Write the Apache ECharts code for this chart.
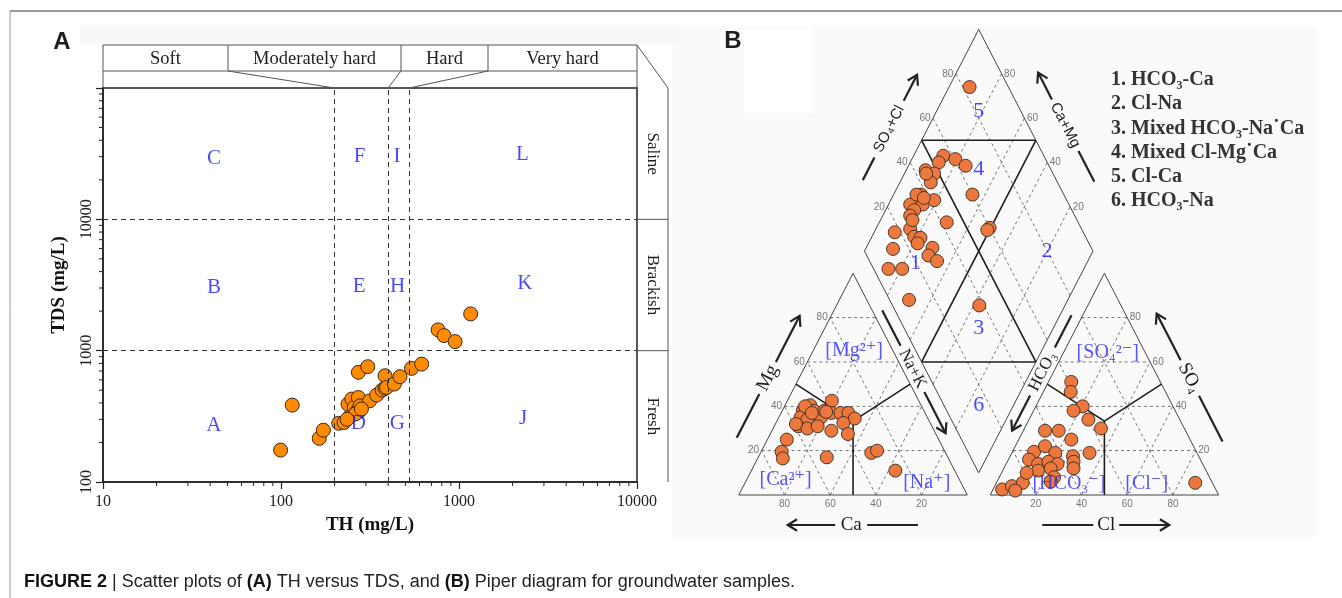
<!DOCTYPE html>
<html>
<head>
<meta charset="utf-8">
<script src="https://cdn.jsdelivr.net/npm/echarts@6/dist/echarts.min.js"></script>
<style>
  html, body { margin: 0; padding: 0; background: #fff; }
  #main { width: 1342px; height: 598px; }
</style>
</head>
<body>
<div id="main"></div>
<script>
// ---------- panel A : TH vs TDS ----------
var thValues  = [99.5, 115.6, 164, 173, 211, 226, 245, 238, 250, 258, 272, 269, 274, 278, 272, 307, 315, 345, 370, 384, 384, 392, 433, 466, 541, 617, 763, 824, 951, 1163, 262, 283, 235];
var tdsValues = [175, 385, 215, 248, 280, 284, 319, 392, 428, 369, 440, 348, 343, 380, 684, 755, 415, 459, 501, 518, 644, 525, 557, 634, 733, 790, 1439, 1303, 1172, 1905, 330, 360, 300];
var thBounds = [200, 400, 525];
var tdsBounds = [1000, 10000];
var hardnessClasses = ['Soft', 'Moderately hard', 'Hard', 'Very hard'];
var salinityClasses = ['Fresh', 'Brackish', 'Saline'];
var zoneLetters = ['A', 'B', 'C', 'D', 'E', 'F', 'G', 'H', 'I', 'J', 'K', 'L'];
var zoneLetterTH  = [42, 42, 42, 272, 275, 276, 450, 452, 449, 2290, 2340, 2270];
var zoneLetterTDS = [270, 3020, 29100, 281, 3100, 30000, 281, 3100, 30000, 304, 3240, 31300];
var xTickValues = [10, 100, 1000, 10000];
var yTickValues = [100, 1000, 10000];

// ---------- panel B : Piper diagram (percent) ----------
var catCa = [38, 48.5, 53, 48, 55.5, 53, 46.5, 41, 58.5, 55, 50, 45, 37, 33.5, 32, 38, 38.5, 66.5, 71.5, 72.5, 53, 32.5, 29.5, 26, 51, 49.5, 43.5, 59, 43];
var catMg = [42.5, 40.5, 38, 38, 35, 34, 35, 37, 31, 30, 31, 29, 37, 37, 34.5, 32.5, 27.5, 25, 19.5, 16.5, 17, 19, 20, 11, 40, 37, 38, 32, 37.5];
var anSO4 = [51, 46.5, 40, 38, 34, 30, 29, 29, 25, 19, 17.5, 15, 12, 19.5, 22, 19, 16, 14, 15, 14, 11, 12, 8, 2.5, 4, 5.5, 2, 5.5, 6, 10];
var anCl  = [10, 12, 20.5, 17.5, 26, 33.5, 9.5, 15.5, 23, 34, 27.5, 29, 30.5, 9.5, 13, 19, 9, 14, 18, 22.5, 15.5, 20.5, 24, 4, 7.5, 11.5, 10, 87, 23.5, 11];
var diaSO4Cl = [83, 56, 52.5, 60.5, 63.5, 45, 48, 44.5, 60, 37.5, 42, 36, 30.5, 31, 28, 42.5, 60, 58.5, 17.5, 25, 25, 27.5, 25, 13, 30.5, 27, 29.5, 6.5, 12.5, 8.5, 38, 35.5, 38, 44.5, 28];
var diaCaMg  = [91, 87, 87.5, 81, 75, 91.5, 87, 86.5, 65.5, 88, 81, 85, 90.5, 87.5, 88, 70.5, 50.5, 51, 91, 85, 81.5, 78.5, 78.5, 88, 71, 71, 66, 85.5, 79.5, 69.5, 37.5, 90, 86, 90.5, 86];
var gridLevels = [20, 40, 60, 80];
var legendItems = ['1. HCO\u2083-Ca', '2. Cl-Na', '3. Mixed HCO\u2083-Na\u02D9Ca', '4. Mixed Cl-Mg\u02D9Ca', '5. Cl-Ca', '6. HCO\u2083-Na'];

// ternary -> cartesian helpers
var G = 0.1, H = Math.sqrt(3) / 2;
function catPt(ca, mg) { var m = mg / 100, na = (100 - ca - mg) / 100; return [na + m / 2, m * H]; }
function anPt(so4, cl) { var s = so4 / 100, c = cl / 100; return [1 + G + c + s / 2, s * H]; }
function diaPt(sc, cm) { var a = sc / 100, b = cm / 100; return [1 + G / 2 + (a - b) / 2, G * H + (a + b) * H]; }

var SERIF = '"Liberation Serif", "DejaVu Serif", serif';
var SANS = '"Liberation Sans", Arial, sans-serif';

// outline, dashed and zone segments
var outlineSegs = [], dashSegs = [], zoneSegs = [];
function seg(list, p, q) { list.push([p[0], p[1], q[0], q[1]]); }
seg(outlineSegs, catPt(100, 0), catPt(0, 0));
seg(outlineSegs, catPt(0, 0), catPt(0, 100));
seg(outlineSegs, catPt(0, 100), catPt(100, 0));
seg(outlineSegs, anPt(0, 0), anPt(0, 100));
seg(outlineSegs, anPt(0, 100), anPt(100, 0));
seg(outlineSegs, anPt(100, 0), anPt(0, 0));
seg(outlineSegs, diaPt(0, 0), diaPt(100, 0));
seg(outlineSegs, diaPt(100, 0), diaPt(100, 100));
seg(outlineSegs, diaPt(100, 100), diaPt(0, 100));
seg(outlineSegs, diaPt(0, 100), diaPt(0, 0));
gridLevels.forEach(function (k) {
  seg(dashSegs, catPt(100 - k, k), catPt(0, k));
  seg(dashSegs, catPt(k, 0), catPt(k, 100 - k));
  seg(dashSegs, catPt(100 - k, 0), catPt(0, 100 - k));
  seg(dashSegs, anPt(k, 0), anPt(k, 100 - k));
  seg(dashSegs, anPt(0, k), anPt(100 - k, k));
  seg(dashSegs, anPt(0, 100 - k), anPt(100 - k, 0));
  seg(dashSegs, diaPt(k, 0), diaPt(k, 100));
  seg(dashSegs, diaPt(0, k), diaPt(100, k));
});
var third = 100 / 3;
[catPt(50, 50), catPt(0, 50), catPt(50, 0)].forEach(function (p) { seg(zoneSegs, catPt(third, third), p); });
[anPt(50, 0), anPt(50, 50), anPt(0, 50)].forEach(function (p) { seg(zoneSegs, anPt(third, third), p); });
seg(zoneSegs, diaPt(50, 100), diaPt(100, 50));
seg(zoneSegs, diaPt(0, 50), diaPt(50, 0));
seg(zoneSegs, diaPt(50, 100), diaPt(50, 0));
seg(zoneSegs, diaPt(100, 50), diaPt(0, 50));

// axis arrows along the diagram edges
var arrowSpecs = [
  { from: catPt(100, 0), to: catPt(0, 100), t0: 0.2, t1: 0.75, tt: 0.47, side: 1, dist: 28, gap: 18, text: 'Mg', font: '19px ' + SERIF },
  { from: catPt(0, 100), to: catPt(0, 0), t0: 0.185, t1: 0.74, tt: 0.45, side: 1, dist: 9, gap: 26, text: 'Na+K', font: '17px ' + SERIF },
  { from: catPt(0, 0), to: catPt(100, 0), t0: 0.216, t1: 0.786, tt: 0.508, side: 1, dist: 30, gap: 16, text: 'Ca', font: '19px ' + SERIF },
  { from: anPt(100, 0), to: anPt(0, 0), t0: 0.21, t1: 0.73, tt: 0.464, side: -1, dist: 10, gap: 27, text: 'HCO\u2083', font: '17px ' + SERIF },
  { from: anPt(0, 100), to: anPt(100, 0), t0: 0.184, t1: 0.76, tt: 0.47, side: -1, dist: 28, gap: 20, text: 'SO\u2084', font: '19px ' + SERIF },
  { from: anPt(0, 0), to: anPt(0, 100), t0: 0.228, t1: 0.784, tt: 0.508, side: -1, dist: 30, gap: 13, text: 'Cl', font: '19px ' + SERIF },
  { from: diaPt(0, 100), to: diaPt(100, 100), t0: 0.25, t1: 0.725, tt: 0.48, side: 1, dist: 34, gap: 32, text: 'SO\u2084+Cl', font: '15px ' + SANS },
  { from: diaPt(100, 0), to: diaPt(100, 100), t0: 0.245, t1: 0.737, tt: 0.5, side: -1, dist: 33, gap: 29, text: 'Ca+Mg', font: '15px ' + SANS }
];

function segSeries(data, style) {
  return {
    type: 'custom', xAxisIndex: 1, yAxisIndex: 1, silent: true, z: 1,
    data: data,
    renderItem: function (params, api) {
      var a = api.coord([api.value(0), api.value(1)]);
      var b = api.coord([api.value(2), api.value(3)]);
      return { type: 'line', shape: { x1: a[0], y1: a[1], x2: b[0], y2: b[1] }, style: style };
    }
  };
}

function labelSeries(xi, items, pos, dist, size, family, color) {
  return {
    type: 'scatter', xAxisIndex: xi, yAxisIndex: xi, silent: true, z: 4,
    symbolSize: 1, itemStyle: { color: 'rgba(0,0,0,0)' },
    data: items,
    label: { show: true, position: pos, distance: dist, formatter: '{b}', color: color, fontSize: size, fontFamily: family }
  };
}

function named(list) { return list.map(function (d) { return { name: d[0], value: d[1] }; }); }

var mgTicks = named(gridLevels.map(function (k) { return [String(k), catPt(100 - k, k)]; }));
var caTicks = named(gridLevels.map(function (k) { return [String(k), catPt(k, 0)]; }));
var so4Ticks = named(gridLevels.map(function (k) { return [String(k), anPt(k, 100 - k)]; }));
var clTicks = named(gridLevels.map(function (k) { return [String(k), anPt(0, k)]; }));
var scTicks = named(gridLevels.map(function (k) { return [String(k), diaPt(k, 100)]; }));
var cmTicks = named(gridLevels.map(function (k) { return [String(k), diaPt(100, k)]; }));

var zoneNums = named([['5', diaPt(81.5, 81.5)], ['4', diaPt(68.5, 68.5)], ['1', diaPt(19.7, 75)],
  ['2', diaPt(79.8, 20)], ['3', diaPt(32.7, 32.7)], ['6', diaPt(15.3, 15.3)]]);
var ionLabels = named([['[Mg\u00B2\u207A]', catPt(17, 65)], ['[Ca\u00B2\u207A]', catPt(76, 7)], ['[Na\u207A]', catPt(15, 5.5)],
  ['[SO\u2084\u00B2\u207B]', anPt(64, 19.5)], ['[HCO\u2083\u207B]', anPt(5, 32)], ['[Cl\u207B]', anPt(5, 66)]]);

var xMinor = [], yMinor = [];
[10, 100, 1000].forEach(function (d) { for (var i = 2; i <= 9; i++) xMinor.push([d * i, 100]); });
[100, 1000, 10000].forEach(function (d) { for (var i = 2; i <= 9; i++) yMinor.push([10, d * i]); });

var chart = echarts.init(document.getElementById('main'));

var option = {
  animation: false,
  backgroundColor: '#fff',
  grid: [
    { left: 103, right: 705, top: 88, bottom: 116, show: true, borderColor: '#222', borderWidth: 1.5, outerBoundsMode: 'none', containLabel: false },
    { left: 693.1, right: 31.95, top: 8.6, bottom: 51.8, show: false, outerBoundsMode: 'none', containLabel: false }
  ],
  xAxis: [
    {
      type: 'log', logBase: 10, min: 10, max: 10000, gridIndex: 0,
      name: 'TH (mg/L)', nameLocation: 'middle', nameGap: 34,
      nameTextStyle: { fontFamily: SERIF, fontWeight: 'bold', fontSize: 19, color: '#111' },
      axisLine: { lineStyle: { color: '#222', width: 1.5 } },
      axisTick: { show: true, length: 7, lineStyle: { color: '#222', width: 1.2 } },
      splitLine: { show: false },
      axisLabel: { margin: 12, fontFamily: SERIF, fontSize: 16, color: '#222',
        formatter: function (v) { var r = Math.round(v); return xTickValues.indexOf(r) >= 0 ? String(r) : ''; } }
    },
    { type: 'value', gridIndex: 1, min: -0.2, max: 2.5, show: false }
  ],
  yAxis: [
    {
      type: 'log', logBase: 10, min: 100, max: 100000, gridIndex: 0,
      name: 'TDS (mg/L)', nameLocation: 'middle', nameGap: 34, nameRotate: 90,
      nameTextStyle: { fontFamily: SERIF, fontWeight: 'bold', fontSize: 19, color: '#111' },
      axisLine: { lineStyle: { color: '#222', width: 1.5 } },
      axisTick: { show: true, length: 7, lineStyle: { color: '#222', width: 1.2 } },
      splitLine: { show: false },
      axisLabel: { rotate: 90, margin: 8, fontFamily: SERIF, fontSize: 16, color: '#222',
        formatter: function (v) { var r = Math.round(v); return yTickValues.indexOf(r) >= 0 ? String(r) : ''; } }
    },
    { type: 'value', gridIndex: 1, min: -0.2, max: 1.9, show: false }
  ],
  series: [
    // class boundaries (dashed)
    {
      type: 'line', xAxisIndex: 0, yAxisIndex: 0, data: [], z: 1, silent: true,
      markLine: {
        silent: true, symbol: 'none', label: { show: false },
        lineStyle: { type: [5, 4], color: '#333', width: 1 },
        data: thBounds.map(function (v) { return { xAxis: v }; })
          .concat(tdsBounds.map(function (v) { return { yAxis: v }; }))
      }
    },
    // minor ticks
    {
      type: 'custom', xAxisIndex: 0, yAxisIndex: 0, silent: true, data: xMinor,
      renderItem: function (params, api) {
        var p = api.coord([api.value(0), api.value(1)]);
        return { type: 'line', shape: { x1: p[0], y1: p[1], x2: p[0], y2: p[1] + 4 }, style: { stroke: '#222', lineWidth: 1 } };
      }
    },
    {
      type: 'custom', xAxisIndex: 0, yAxisIndex: 0, silent: true, data: yMinor,
      renderItem: function (params, api) {
        var p = api.coord([api.value(0), api.value(1)]);
        return { type: 'line', shape: { x1: p[0], y1: p[1], x2: p[0] - 4, y2: p[1] }, style: { stroke: '#222', lineWidth: 1 } };
      }
    },
    {
      type: 'scatter', xAxisIndex: 0, yAxisIndex: 0, z: 3,
      symbolSize: 14,
      itemStyle: { color: '#FF8A00', borderColor: '#3a2a1a', borderWidth: 1, opacity: 1 },
      data: thValues.map(function (v, i) { return [v, tdsValues[i]]; })
    },
    labelSeries(0, zoneLetters.map(function (l, i) { return { name: l, value: [zoneLetterTH[i], zoneLetterTDS[i]] }; }),
      'inside', 0, 21, SERIF, '#1a1aff'),

    // Piper diagram
    segSeries(dashSegs, { stroke: '#555', lineWidth: 0.8, lineDash: [3, 3] }),
    segSeries(outlineSegs, { stroke: '#444', lineWidth: 1 }),
    segSeries(zoneSegs, { stroke: '#1e1e1e', lineWidth: 1.6 }),
    {
      type: 'custom', xAxisIndex: 1, yAxisIndex: 1, silent: true, z: 2, data: [[0, 0]],
      renderItem: function (params, api) {
        var children = [];
        arrowSpecs.forEach(function (s) {
          var p0 = api.coord(s.from), p1 = api.coord(s.to);
          var dx = p1[0] - p0[0], dy = p1[1] - p0[1], len = Math.sqrt(dx * dx + dy * dy);
          var ux = dx / len, uy = dy / len;
          var nx = uy * s.side, ny = -ux * s.side;
          function at(t, off) { return [p0[0] + ux * len * t + nx * s.dist + ux * (off || 0), p0[1] + uy * len * t + ny * s.dist + uy * (off || 0)]; }
          var a = at(s.t0), b = at(s.t1), g1 = at(s.tt, -s.gap), g2 = at(s.tt, s.gap), m = at(s.tt);
          var st = { stroke: '#222', lineWidth: 2.2, fill: null };
          children.push({ type: 'line', shape: { x1: a[0], y1: a[1], x2: g1[0], y2: g1[1] }, style: st });
          children.push({ type: 'line', shape: { x1: g2[0], y1: g2[1], x2: b[0], y2: b[1] }, style: st });
          var ah = 11, ang = 0.55, bx = -ux, by = -uy;
          var h1 = [b[0] + ah * (bx * Math.cos(ang) - by * Math.sin(ang)), b[1] + ah * (bx * Math.sin(ang) + by * Math.cos(ang))];
          var h2 = [b[0] + ah * (bx * Math.cos(-ang) - by * Math.sin(-ang)), b[1] + ah * (bx * Math.sin(-ang) + by * Math.cos(-ang))];
          children.push({ type: 'polyline', shape: { points: [h1, b, h2] }, style: st });
          var rot = Math.atan2(-uy, ux);
          if (rot > Math.PI / 2) rot -= Math.PI;
          if (rot < -Math.PI / 2) rot += Math.PI;
          children.push({ type: 'text', x: m[0], y: m[1], rotation: rot,
            style: { text: s.text, font: s.font, fill: '#1e1e1e', align: 'center', verticalAlign: 'middle' } });
        });
        return { type: 'group', children: children };
      }
    },
    {
      type: 'scatter', xAxisIndex: 1, yAxisIndex: 1, z: 3, symbolSize: 13,
      itemStyle: { color: '#EC783E', borderColor: '#3a2a20', borderWidth: 0.9, opacity: 1 },
      data: catCa.map(function (ca, i) { return catPt(ca, catMg[i]); })
        .concat(anSO4.map(function (s, i) { return anPt(s, anCl[i]); }))
        .concat(diaSO4Cl.map(function (s, i) { return diaPt(s, diaCaMg[i]); }))
    },
    labelSeries(1, mgTicks, 'left', 2, 10, SANS, '#555'),
    labelSeries(1, caTicks, 'bottom', 4, 10, SANS, '#555'),
    labelSeries(1, so4Ticks, 'right', 2, 10, SANS, '#555'),
    labelSeries(1, clTicks, 'bottom', 4, 10, SANS, '#555'),
    labelSeries(1, scTicks, 'left', 2, 10, SANS, '#555'),
    labelSeries(1, cmTicks, 'right', 2, 10, SANS, '#555'),
    labelSeries(1, zoneNums, 'inside', 0, 22, SERIF, '#1a1aff'),
    labelSeries(1, ionLabels, 'inside', 0, 20, SERIF, '#2a2aff')
  ]
};
chart.setOption(option);

// frame decorations that sit around the plot area of panel A
var L = 103, R = 637, T = 88, B = 482, hdrTop = 45, hdrMid = 71, bandR = 668;
var hdrDiv = [228, 401, 488];
var lineSt = { stroke: '#555', lineWidth: 1 };
var g = [];
function gl(x1, y1, x2, y2, st) { g.push({ type: 'line', shape: { x1: x1, y1: y1, x2: x2, y2: y2 }, style: st || lineSt }); }
function gt(x, y, text, font, extra) {
  var el = { type: 'text', x: x, y: y, style: { text: text, font: font, fill: '#1e1e1e', align: 'center', verticalAlign: 'middle' } };
  for (var k in extra) el[k] = extra[k];
  g.push(el);
}
// page backgrounds and border
g.push({ type: 'rect', z: -10, shape: { x: 672, y: 27, width: 645, height: 510 }, style: { fill: '#fafafa' } });
g.push({ type: 'rect', z: -9, shape: { x: 744, y: 28, width: 69, height: 85 }, style: { fill: '#fff' } });
g.push({ type: 'rect', z: -10, shape: { x: 80, y: 25, width: 600, height: 19 }, style: { fill: '#f8f8f8' } });
gl(10, 11, 1342, 11, { stroke: '#777', lineWidth: 1.5 });
gl(10, 11, 10, 598, { stroke: '#999', lineWidth: 1 });
// hardness header
gl(L, hdrTop, R, hdrTop); gl(L, hdrMid, R, hdrMid); gl(L, hdrTop, L, T); gl(R, hdrTop, R, T);
hdrDiv.forEach(function (x) { gl(x, hdrTop, x, hdrMid); });
var edges = [L].concat(hdrDiv, [R]);
hardnessClasses.forEach(function (c, i) { gt((edges[i] + edges[i + 1]) / 2, (hdrTop + hdrMid) / 2 + 1, c, '18.5px ' + SERIF); });
thBounds.forEach(function (v, i) {
  var px = chart.convertToPixel({ gridIndex: 0 }, [v, 100])[0];
  gl(hdrDiv[i], hdrMid, px, T);
});
// salinity band
gl(bandR, T, bandR, B); gl(R, hdrTop, bandR, T);
tdsBounds.forEach(function (v) {
  var py = chart.convertToPixel({ gridIndex: 0 }, [10, v])[1];
  gl(R, py, bandR, py);
});
var bandEdges = [100].concat(tdsBounds, [100000]);
salinityClasses.forEach(function (c, i) {
  var py = chart.convertToPixel({ gridIndex: 0 }, [10, Math.sqrt(bandEdges[i] * bandEdges[i + 1])])[1];
  gt((R + bandR) / 2, py, c, '17px ' + SERIF, { rotation: -Math.PI / 2 });
});
// panel letters, Piper legend, caption
gt(62, 42, 'A', 'bold 24px ' + SANS);
gt(733, 41, 'B', 'bold 24px ' + SANS);
legendItems.forEach(function (t, i) {
  g.push({ type: 'text', x: 1111, y: 80 + i * 24.2, style: { text: t, font: 'bold 20px ' + SERIF, fill: '#333', align: 'left', verticalAlign: 'middle' } });
});
g.push({ type: 'text', x: 24, y: 582, style: {
  text: '{b|FIGURE 2} | Scatter plots of {b|(A)} TH versus TDS, and {b|(B)} Piper diagram for groundwater samples.',
  font: '18px ' + SANS, fill: '#222', align: 'left', verticalAlign: 'middle',
  rich: { b: { fontWeight: 'bold', fontSize: 18, fontFamily: SANS, fill: '#111' } } } });
chart.setOption({ graphic: { elements: g } });
</script>
</body>
</html>
